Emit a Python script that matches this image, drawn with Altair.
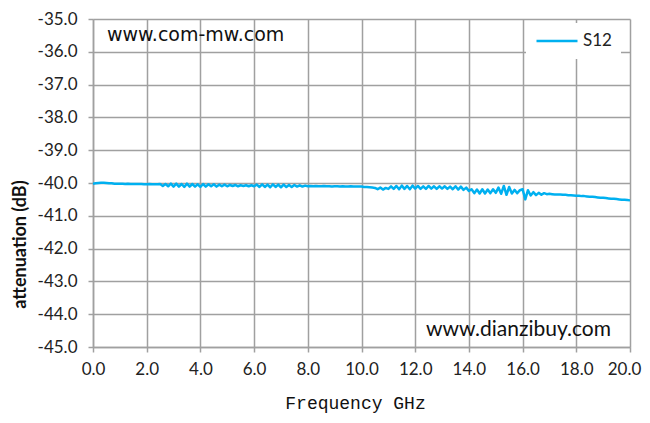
import altair as alt
import pandas as pd

# ---- data ----
freq_ghz = [round(i * 0.1, 1) for i in range(201)]

s12_db = [
    -40.02, -40.01, -40.00, -39.99, -39.99, -40.00, -40.01, -40.01, -40.02, -40.02,
    -40.02, -40.02, -40.03, -40.02, -40.03, -40.03, -40.03, -40.03, -40.03, -40.04,
    -40.04, -40.03, -40.04, -40.04, -40.04, -40.03, -40.09, -40.03, -40.10, -40.02,
    -40.11, -40.02, -40.11, -40.03, -40.12, -40.02, -40.11, -40.03, -40.11, -40.04,
    -40.12, -40.03, -40.11, -40.04, -40.10, -40.04, -40.11, -40.05, -40.10, -40.05,
    -40.10, -40.06, -40.09, -40.06, -40.10, -40.07, -40.09, -40.07, -40.10, -40.07,
    -40.10, -40.05, -40.12, -40.04, -40.12, -40.05, -40.13, -40.04, -40.12, -40.05,
    -40.13, -40.05, -40.12, -40.06, -40.12, -40.06, -40.11, -40.07, -40.11, -40.08,
    -40.10, -40.09, -40.10, -40.09, -40.10, -40.10, -40.09, -40.10, -40.10, -40.11,
    -40.10, -40.10, -40.11, -40.10, -40.11, -40.11, -40.10, -40.11, -40.11, -40.11,
    -40.11, -40.12, -40.12, -40.13, -40.14, -40.15, -40.19, -40.14, -40.20, -40.15,
    -40.18, -40.10, -40.18, -40.09, -40.19, -40.08, -40.18, -40.09, -40.19, -40.08,
    -40.17, -40.09, -40.18, -40.10, -40.18, -40.09, -40.17, -40.10, -40.18, -40.10,
    -40.17, -40.10, -40.18, -40.11, -40.19, -40.10, -40.20, -40.11, -40.21, -40.14,
    -40.24, -40.19, -40.31, -40.20, -40.32, -40.19, -40.32, -40.20, -40.31, -40.19,
    -40.30, -40.14, -40.33, -40.09, -40.36, -40.12, -40.32, -40.21, -40.31, -40.22,
    -40.19, -40.50, -40.22, -40.38, -40.28, -40.37, -40.30, -40.36, -40.31, -40.34,
    -40.33, -40.34, -40.35, -40.35, -40.35, -40.36, -40.36, -40.37, -40.37, -40.38,
    -40.39, -40.39, -40.40, -40.40, -40.41, -40.42, -40.42, -40.43, -40.44, -40.45,
    -40.45, -40.46, -40.47, -40.48, -40.48, -40.49, -40.50, -40.51, -40.51, -40.52,
    -40.53,
]

series_name = ["S12"]
x_ticks = [0, 2, 4, 6, 8, 10, 12, 14, 16, 18, 20]
y_ticks = [-45, -44, -43, -42, -41, -40, -39, -38, -37, -36, -35]
watermark_top = ["www.com-mw.com"]
watermark_bottom = ["www.dianzibuy.com"]

df = pd.DataFrame({"freq": freq_ghz, "s12": s12_db, "series": series_name * len(freq_ghz)})

GRID = "#A0A0A0"
LINE = "#00B0F0"
label_expr = "(datum.value < 0 ? '-' : '') + format(abs(datum.value), '.1f')"

line = alt.Chart(df).mark_line(strokeWidth=2.5, strokeJoin="round").encode(
    x=alt.X(
        "freq:Q",
        scale=alt.Scale(domain=[0, 20], nice=False),
        axis=alt.Axis(
            values=x_ticks, labelExpr=label_expr, labelFlush=False, title="Frequency GHz",
            labelOffset={"condition": {"test": "datum.value == 20", "value": -6}, "value": 0},
            titleFont="Liberation Mono", titleFontSize=18, titleFontWeight="normal",
            titleX=262, titleY=56, titleBaseline="middle", titleAlign="center",
            labelPadding=9,
        ),
    ),
    y=alt.Y(
        "s12:Q",
        scale=alt.Scale(domain=[-45, -35], nice=False, zero=False),
        axis=alt.Axis(
            values=y_ticks, labelExpr=label_expr, labelFlush=False, title="attenuation (dB)",
            titleFont="Lato", titleFontSize=18, titleFontWeight="bold",
            titleAngle=270, titleX=-73, titleY=225, titleBaseline="middle", titleAlign="center",
            labelPadding=11,
        ),
    ),
    color=alt.Color(
        "series:N",
        scale=alt.Scale(range=[LINE]),
        legend=alt.Legend(
            title=None, orient="none", legendX=433, legendY=4,
            fillColor="white", padding=9, clipHeight=18,
            symbolType="stroke", symbolSize=1681, symbolStrokeWidth=2.5,
            labelFont="Lato", labelFontSize=17, labelColor="#222222", labelOffset=4,
        ),
    ),
)

wm1 = alt.Chart(pd.DataFrame({"t": watermark_top})).mark_text(
    font="DejaVu Sans", fontSize=19, align="left", baseline="alphabetic", color="#111111"
).encode(x=alt.value(14), y=alt.value(21.5), text="t:N")

wm2 = alt.Chart(pd.DataFrame({"t": watermark_bottom})).mark_text(
    font="Lato", fontSize=21, align="right", baseline="alphabetic", color="#111111"
).encode(x=alt.value(518), y=alt.value(316.5), text="t:N")

chart = (
    alt.layer(line, wm1, wm2)
    .properties(
        width=537, height=328,
        autosize=alt.AutoSizeParams(type="none"),
        padding={"left": 85, "top": 11, "right": 12, "bottom": 68},
        background="white",
    )
    .configure_view(stroke=None)
    .configure_axis(
        grid=True, gridColor=GRID, gridWidth=1.5, gridOpacity=1,
        domainColor=GRID, domainWidth=1.5,
        tickColor=GRID, tickWidth=1.5, tickSize=5,
        labelFont="Lato", labelFontSize=17, labelColor="#222222",
        titleColor="#111111",
    )
)

chart.save("out.html", embed_options={"renderer": "svg", "actions": False})
